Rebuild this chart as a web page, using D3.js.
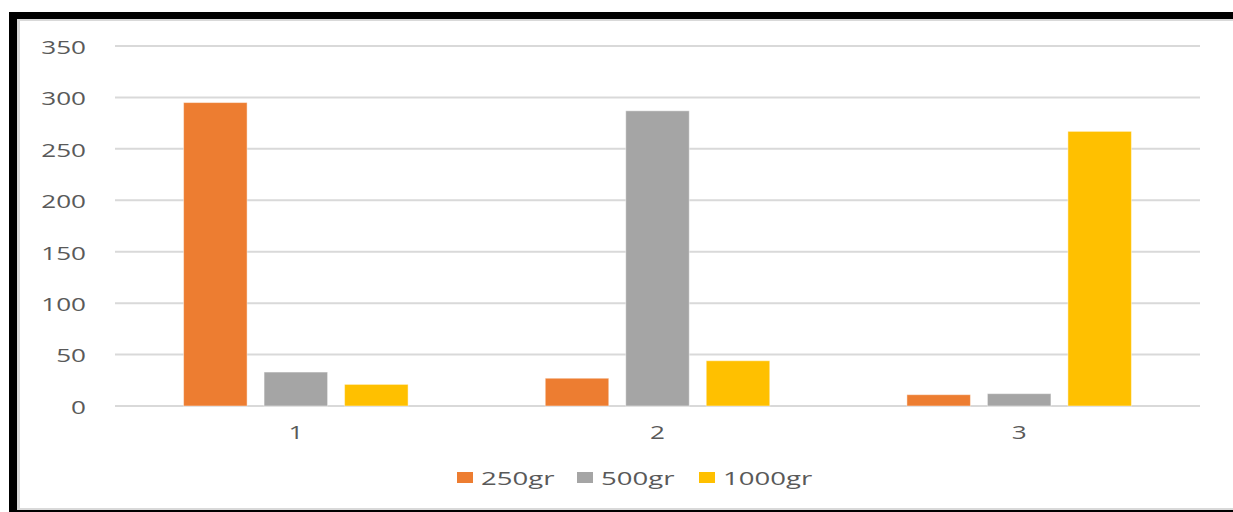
<!DOCTYPE html>
<html>
<head>
<meta charset="utf-8">
<script src="https://cdn.jsdelivr.net/npm/d3@7"></script>
<style>
html,body{margin:0;padding:0;background:#fff;}
svg{display:block;}
text{font-family:"Open Sans",sans-serif;fill:#595959;}
</style>
</head>
<body>
<svg id="chart" width="1233" height="512"></svg>
<script>
const categories = ["1", "2", "3"];
const seriesNames = ["250gr", "500gr", "1000gr"];
const values250 = [295, 27, 11];
const values500 = [33, 287, 12];
const values1000 = [21, 44, 267];
const yTicks = [0, 50, 100, 150, 200, 250, 300, 350];
const colors = ["#ED7D31", "#A5A5A5", "#FFC000"];

const seriesValues = [values250, values500, values1000];
const svg = d3.select("#chart");
const SX = 1.45;

// frame
svg.append("rect").attr("x", 9).attr("y", 12).attr("width", 1224).attr("height", 500).attr("fill", "#000");
svg.append("rect").attr("x", 17).attr("y", 19).attr("width", 1216).attr("height", 491).attr("fill", "#d9d9d9");
svg.append("rect").attr("x", 20).attr("y", 21).attr("width", 1213).attr("height", 487).attr("fill", "#fff");

const x0 = d3.scaleBand().domain(categories).range([115, 1200]).paddingInner(0).paddingOuter(0);
const x1 = d3.scaleBand().domain(seriesNames).range([0, x0.bandwidth()]).paddingInner(0.211).paddingOuter(0.852);
const y = d3.scaleLinear().domain([0, 350]).range([406, 46]);

// gridlines
svg.append("g").selectAll("line").data(yTicks).join("line")
  .attr("x1", 115).attr("x2", 1200)
  .attr("y1", d => y(d)).attr("y2", d => y(d))
  .attr("stroke", "#d9d9d9").attr("stroke-width", 2);

// y labels
svg.append("g").selectAll("text").data(yTicks).join("text")
  .attr("text-anchor", "end")
  .attr("font-size", 18)
  .attr("dominant-baseline", "central")
  .attr("transform", d => `translate(86,${y(d) + 1}) scale(${SX},1)`)
  .text(d => d);

// bars
const groups = svg.append("g").selectAll("g").data(categories).join("g")
  .attr("transform", d => `translate(${x0(d)},0)`);
groups.selectAll("rect").data((c, ci) => seriesNames.map((s, si) => ({s, si, v: seriesValues[si][ci]})))
  .join("rect")
  .attr("x", d => x1(d.s))
  .attr("width", x1.bandwidth())
  .attr("y", d => y(d.v))
  .attr("height", d => y(0) - y(d.v))
  .attr("fill", d => colors[d.si])
  .attr("stroke", "#fff").attr("stroke-opacity", 0.45).attr("stroke-width", 1);

// x labels
svg.append("g").selectAll("text").data(categories).join("text")
  .attr("text-anchor", "middle")
  .attr("font-size", 18)
  .attr("transform", d => `translate(${x0(d) + x0.bandwidth() / 2},439) scale(${SX},1)`)
  .text(d => d);

// legend
const legendX = [457, 577, 699];
const leg = svg.append("g").selectAll("g").data(seriesNames).join("g")
  .attr("transform", (d, i) => `translate(${legendX[i]},478)`);
leg.append("rect").attr("x", 0).attr("y", -6).attr("width", 16).attr("height", 11)
  .attr("fill", (d, i) => colors[i]);
leg.append("text")
  .attr("font-size", 19)
  .attr("dominant-baseline", "central")
  .attr("transform", `translate(24,0) scale(${SX},1)`)
  .text(d => d);
</script>
</body>
</html>
